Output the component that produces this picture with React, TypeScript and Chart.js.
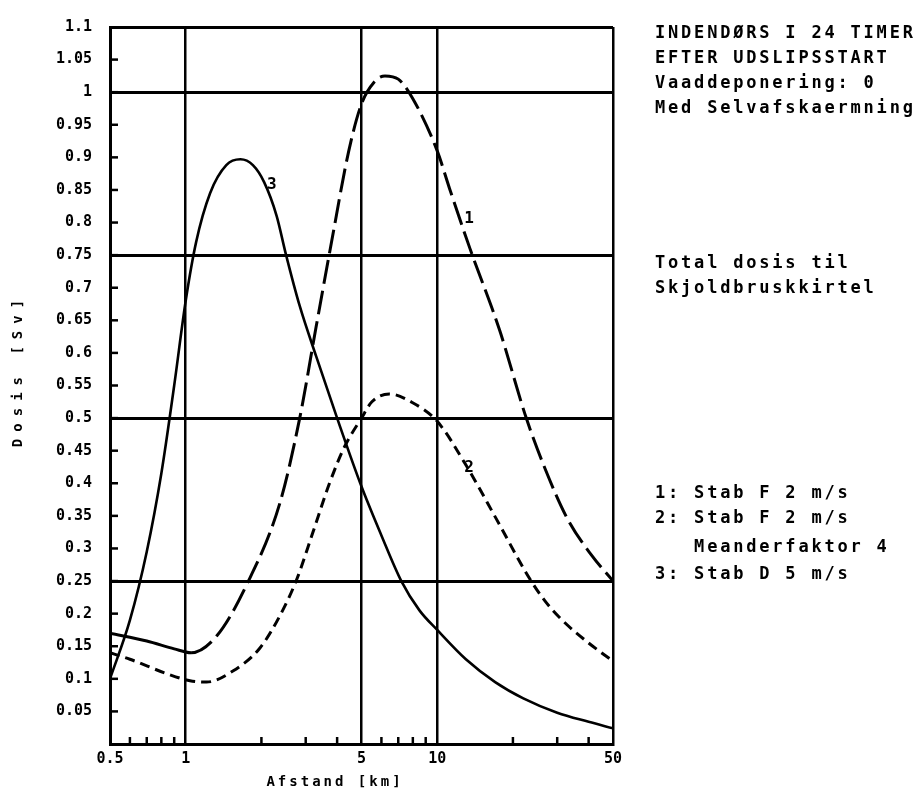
import React, { useEffect, useRef } from 'react';
import { Chart, registerables } from 'chart.js';

Chart.register(...registerables);

// Curve 1: Stab F 2 m/s (long dashes)
const curve1X = [0.5, 0.7, 0.9, 1.05, 1.33, 1.75, 2.37, 2.84, 3.3, 3.8, 4.45, 5.0, 5.6, 6.2, 7.0, 8.0, 10, 11.2, 13.5, 17.7, 22.6, 27, 33, 41, 50];
const curve1Y = [0.17, 0.158, 0.146, 0.14, 0.166, 0.245, 0.37, 0.5, 0.64, 0.77, 0.91, 0.982, 1.015, 1.025, 1.02, 0.99, 0.91, 0.852, 0.76, 0.635, 0.5, 0.42, 0.345, 0.29, 0.25];

// Curve 2: Stab F 2 m/s, Meanderfaktor 4 (short dashes)
const curve2X = [0.5, 0.6, 0.84, 1.04, 1.21, 1.54, 1.97, 2.37, 2.76, 3.2, 3.73, 4.28, 5.0, 5.5, 6.45, 7.95, 10, 13.1, 17.2, 23.2, 27, 31.4, 40, 50];
const curve2Y = [0.14, 0.13, 0.108, 0.097, 0.095, 0.112, 0.147, 0.197, 0.252, 0.324, 0.4, 0.456, 0.5, 0.525, 0.537, 0.524, 0.495, 0.426, 0.345, 0.255, 0.218, 0.19, 0.155, 0.127];

// Curve 3: Stab D 5 m/s (solid)
const curve3X = [0.5, 0.6, 0.7, 0.8, 0.9, 1.0, 1.1, 1.25, 1.45, 1.65, 1.85, 2.05, 2.3, 2.5, 2.84, 3.3, 4.0, 5.0, 6.0, 7.2, 8.5, 10, 13, 17, 22, 30, 40, 50];
const curve3Y = [0.1, 0.19, 0.295, 0.415, 0.55, 0.68, 0.77, 0.845, 0.888, 0.897, 0.888, 0.862, 0.81, 0.752, 0.672, 0.595, 0.5, 0.395, 0.32, 0.25, 0.205, 0.175, 0.13, 0.095, 0.07, 0.048, 0.034, 0.024];

// Curve number labels (data coordinates)
const curveLabelText = ['1', '2', '3'];
const curveLabelX = [13.4, 13.4, 2.2];
const curveLabelY = [0.805, 0.423, 0.858];

// Axes
const xTickValues = [0.5, 0.6, 0.7, 0.8, 0.9, 1, 2, 3, 4, 5, 6, 7, 8, 9, 10, 20, 30, 40, 50];
const xTickLabels = ['0.5', '', '', '', '', '1', '', '', '', '5', '', '', '', '', '10', '', '', '', '50'];
const xGridValues = [1, 5, 10, 50];
const yTickLabels = ['', '0.05', '0.1', '0.15', '0.2', '0.25', '0.3', '0.35', '0.4', '0.45', '0.5', '0.55', '0.6', '0.65', '0.7', '0.75', '0.8', '0.85', '0.9', '0.95', '1', '1.05', '1.1'];
const yGridValues = [0.25, 0.5, 0.75, 1, 1.1];
const xTitle = 'Afstand [km]';
const yTitle = 'Dosis [Sv]';

// Side notes
const noteBlock1 = ['INDENDØRS I 24 TIMER', 'EFTER UDSLIPSSTART', 'Vaaddeponering: 0', 'Med Selvafskaermning'];
const noteBlock2 = ['Total dosis til', 'Skjoldbruskkirtel'];
const noteBlock3 = ['1: Stab F 2 m/s', '2: Stab F 2 m/s', '   Meanderfaktor 4', '3: Stab D 5 m/s'];

const FONT = '"DejaVu Sans Mono", "Liberation Mono", monospace';

const toPoints = (xs: number[], ys: number[]) => xs.map((x, i) => ({ x, y: ys[i] }));
const near = (a: number, list: number[]) => list.some((v) => Math.abs(v - a) < 1e-6);

const decorPlugin = {
  id: 'decor',
  afterDraw(chart: any) {
    const ctx = chart.ctx as CanvasRenderingContext2D;
    const { left, right, bottom } = chart.chartArea;
    const xs = chart.scales.x;
    const ys = chart.scales.y;
    ctx.save();
    ctx.strokeStyle = '#000';
    ctx.fillStyle = '#000';
    ctx.lineWidth = 2.5;
    ctx.lineCap = 'butt';
    // inward y ticks
    ys.ticks.forEach((t: any) => {
      if (t.value <= 0 || t.value >= 1.1 - 1e-6) return;
      const y = ys.getPixelForValue(t.value);
      ctx.beginPath();
      ctx.moveTo(left, y);
      ctx.lineTo(left + 8, y);
      ctx.stroke();
    });
    // inward x minor ticks
    xs.ticks.forEach((t: any, i: number) => {
      if (xTickLabels[i] !== '') return;
      const x = xs.getPixelForValue(t.value);
      ctx.beginPath();
      ctx.moveTo(x, bottom);
      ctx.lineTo(x, bottom - 7);
      ctx.stroke();
    });
    // curve labels
    ctx.font = `bold 16px ${FONT}`;
    ctx.textAlign = 'center';
    ctx.textBaseline = 'middle';
    curveLabelText.forEach((s, i) => {
      ctx.fillText(s, xs.getPixelForValue(curveLabelX[i]), ys.getPixelForValue(curveLabelY[i]));
    });
    // axis titles
    (ctx as any).letterSpacing = '3px';
    ctx.font = `bold 14px ${FONT}`;
    ctx.fillText(xTitle, left + 225, 782);
    ctx.save();
    ctx.translate(18, 370);
    ctx.rotate(-Math.PI / 2);
    (ctx as any).letterSpacing = '7px';
    ctx.fillText(yTitle, 0, 0);
    ctx.restore();
    // notes
    (ctx as any).letterSpacing = '2.8px';
    ctx.font = `bold 17px ${FONT}`;
    ctx.textAlign = 'left';
    const nx = right + 42;
    noteBlock1.forEach((s, i) => ctx.fillText(s, nx, 34 + i * 25));
    noteBlock2.forEach((s, i) => ctx.fillText(s, nx, 264 + i * 25));
    const legendY = [494, 519, 548, 575];
    noteBlock3.forEach((s, i) => ctx.fillText(s, nx, legendY[i]));
    (ctx as any).letterSpacing = '0px';
    ctx.restore();
  },
};

export default function App() {
  const ref = useRef<HTMLCanvasElement | null>(null);
  useEffect(() => {
    if (!ref.current) return;
    const tickFont = { family: FONT, weight: 'bold' as const, size: 15 };
    const chart = new Chart(ref.current, {
      type: 'line',
      data: {
        datasets: [
          {
            label: '1',
            data: toPoints(curve1X, curve1Y),
            borderColor: '#000',
            borderWidth: 3,
            borderDash: [24, 7],
            segment: {
              borderDash: (c: any) => (c.p0.parsed.x < 1.0 ? [] : [24, 7]),
            },
            cubicInterpolationMode: 'monotone',
            pointRadius: 0,
            fill: false,
          },
          {
            label: '2',
            data: toPoints(curve2X, curve2Y),
            borderColor: '#000',
            borderWidth: 3,
            borderDash: [10, 6],
            cubicInterpolationMode: 'monotone',
            pointRadius: 0,
            fill: false,
          },
          {
            label: '3',
            data: toPoints(curve3X, curve3Y),
            borderColor: '#000',
            borderWidth: 2.6,
            cubicInterpolationMode: 'monotone',
            pointRadius: 0,
            fill: false,
          },
        ],
      },
      options: {
        animation: false,
        responsive: false,
        layout: { padding: { left: 0, right: 304, top: 17, bottom: 0 } },
        plugins: { legend: { display: false }, tooltip: { enabled: false } },
        scales: {
          x: {
            type: 'logarithmic',
            min: 0.5,
            max: 50,
            afterBuildTicks: (scale: any) => {
              scale.ticks = xTickValues.map((v) => ({ value: v }));
            },
            afterFit: (scale: any) => {
              scale.height = 51;
            },
            ticks: {
              autoSkip: false,
              maxRotation: 0,
              minRotation: 0,
              padding: 6,
              color: '#000',
              font: tickFont,
              callback: (_v: any, i: number) => xTickLabels[i],
            },
            grid: {
              drawTicks: false,
              lineWidth: 2.5,
              color: (c: any) => (c.tick && near(c.tick.value, xGridValues) ? '#000' : 'rgba(0,0,0,0)'),
            },
            border: { display: true, color: '#000', width: 3 },
          },
          y: {
            type: 'linear',
            min: 0,
            max: 1.1,
            afterFit: (scale: any) => {
              scale.width = 110;
            },
            ticks: {
              stepSize: 0.05,
              autoSkip: false,
              padding: 18,
              color: '#000',
              font: tickFont,
              callback: (_v: any, i: number) => yTickLabels[i] ?? '',
            },
            grid: {
              drawTicks: false,
              lineWidth: 3,
              color: (c: any) => (c.tick && near(c.tick.value, yGridValues) ? '#000' : 'rgba(0,0,0,0)'),
            },
            border: { display: true, color: '#000', width: 3 },
          },
        },
      },
      plugins: [decorPlugin],
    } as any);
    return () => chart.destroy();
  }, []);
  return (
    <div style={{ position: 'fixed', left: 0, top: 0, width: 917, height: 795, background: '#fff' }}>
      <canvas ref={ref} width={917} height={795} style={{ display: 'block' }} />
    </div>
  );
}
